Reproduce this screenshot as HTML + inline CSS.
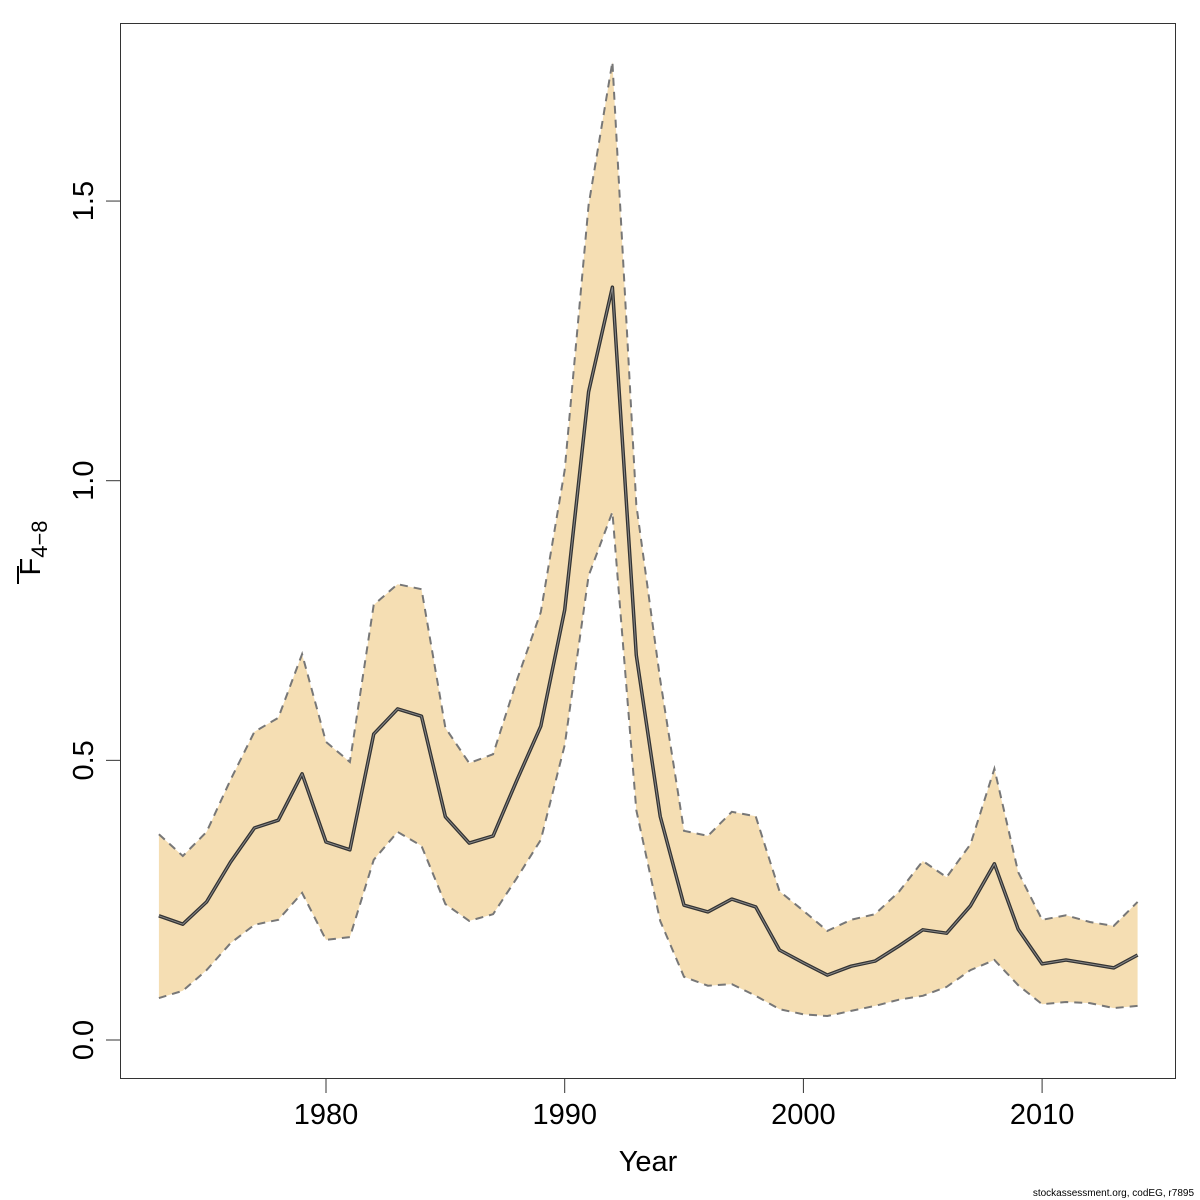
<!DOCTYPE html>
<html><head><meta charset="utf-8"><style>
html,body{margin:0;padding:0;background:#fff;}
svg{display:block;font-family:"Liberation Sans",sans-serif;}
</style></head><body>
<svg id="chart" width="1200" height="1200" viewBox="0 0 1200 1200" xmlns="http://www.w3.org/2000/svg">
<rect x="0" y="0" width="1200" height="1200" fill="#fff"/>
<g id="plot"></g>
<rect x="120.5" y="23.5" width="1055" height="1055" fill="none" stroke="#333" stroke-width="1"/>
<text x="648" y="1171" font-size="29" text-anchor="middle" fill="#000">Year</text>
<g transform="translate(40,548) rotate(-90)">
<text x="0" y="0" font-size="29" text-anchor="middle" fill="#000">F<tspan font-size="22" dy="7">4−8</tspan></text>
<line x1="-36" y1="-22" x2="-18" y2="-22" stroke="#000" stroke-width="2"/>
</g>
<text x="1194" y="1196" font-size="10" text-anchor="end" fill="#000">stockassessment.org, codEG, r7895</text>
</svg>
<script>
const years = [1973,1974,1975,1976,1977,1978,1979,1980,1981,1982,1983,1984,1985,1986,1987,1988,1989,1990,1991,1992,1993,1994,1995,1996,1997,1998,1999,2000,2001,2002,2003,2004,2005,2006,2007,2008,2009,2010,2011,2012,2013,2014];
const fbar = [0.222,0.207,0.247,0.318,0.379,0.393,0.476,0.354,0.340,0.547,0.592,0.579,0.399,0.352,0.365,0.465,0.561,0.769,1.159,1.346,0.688,0.400,0.241,0.229,0.252,0.238,0.161,0.138,0.116,0.132,0.141,0.168,0.197,0.191,0.240,0.315,0.198,0.136,0.143,0.136,0.129,0.152];
const upper = [0.368,0.329,0.372,0.465,0.551,0.576,0.690,0.533,0.497,0.778,0.815,0.806,0.558,0.495,0.511,0.644,0.765,1.019,1.493,1.749,0.957,0.644,0.374,0.365,0.408,0.400,0.266,0.231,0.195,0.215,0.225,0.265,0.320,0.291,0.350,0.485,0.300,0.215,0.223,0.211,0.204,0.247];
const lower = [0.075,0.088,0.125,0.173,0.206,0.215,0.263,0.179,0.184,0.322,0.372,0.347,0.243,0.213,0.225,0.290,0.358,0.527,0.830,0.944,0.411,0.213,0.113,0.097,0.100,0.079,0.055,0.046,0.043,0.052,0.061,0.072,0.079,0.095,0.125,0.143,0.098,0.064,0.068,0.066,0.057,0.061];
const xTicks = [1980,1990,2000,2010];
const yTicks = [0.0,0.5,1.0,1.5];
const yTickLabels = ["0.0","0.5","1.0","1.5"];

const NS = "http://www.w3.org/2000/svg";
const xs = y => 326 + (y - 1980) * 23.87;
const ys = v => 1040 - v * 559.3;
const g = document.getElementById('plot');
function mk(tag, attrs){const e=document.createElementNS(NS,tag);for(const k in attrs)e.setAttribute(k,attrs[k]);g.appendChild(e);return e;}

const up = years.map((y,i)=>xs(y).toFixed(1)+','+ys(upper[i]).toFixed(1));
const lo = years.map((y,i)=>xs(y).toFixed(1)+','+ys(lower[i]).toFixed(1)).reverse();
const band = mk('polygon',{points:up.concat(lo).join(' '),fill:'#f5deb3',stroke:'none'});


const ul = mk('polyline',{points:up.join(' '),fill:'none',stroke:'#777','stroke-width':2,'stroke-dasharray':'8,6'});


const ll = mk('polyline',{points:lo.join(' '),fill:'none',stroke:'#777','stroke-width':2,'stroke-dasharray':'8,6'});


const mp = years.map((y,i)=>xs(y).toFixed(1)+','+ys(fbar[i]).toFixed(1)).join(' ');
const m1 = mk('polyline',{points:mp,fill:'none',stroke:'#333','stroke-width':3.5,'stroke-linejoin':'round'});


const m2 = mk('polyline',{points:mp,fill:'none',stroke:'#888','stroke-width':1,'stroke-linejoin':'round'});



xTicks.forEach(t=>{
  const l = mk('line',{x1:xs(t),x2:xs(t),y1:1079,y2:1093,stroke:'#333','stroke-width':1});
  
  
  const tx = mk('text',{x:xs(t),y:1124,'font-size':29,'text-anchor':'middle',fill:'#000'});
  tx.textContent = t;
  
  
});
yTicks.forEach((t,i)=>{
  const l = mk('line',{x1:106,x2:120,y1:ys(t),y2:ys(t),stroke:'#333','stroke-width':1});
  
  
  const tx = mk('text',{x:0,y:0,'font-size':29,'text-anchor':'middle',fill:'#000',transform:'translate(93,'+ys(t)+') rotate(-90)'});
  tx.textContent = yTickLabels[i];
  
  
});
</script>
</body></html>
